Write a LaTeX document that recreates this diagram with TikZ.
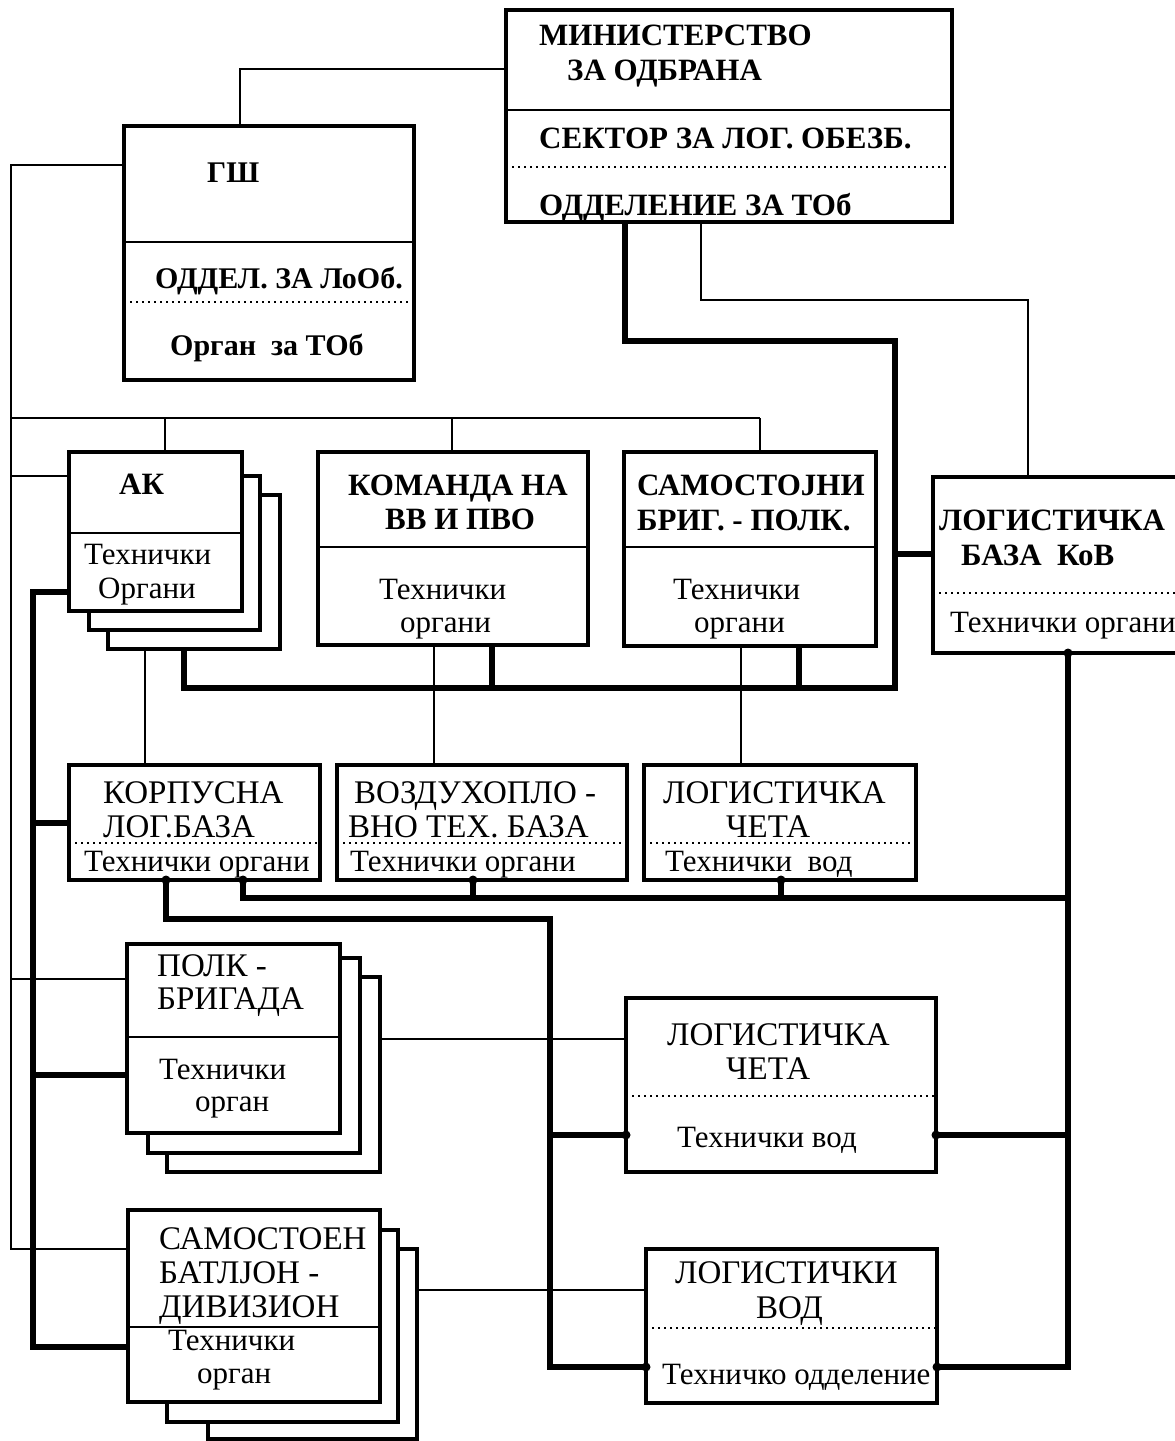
\documentclass[tikz,border=0pt]{standalone}
\usepackage{fontspec}
\setmainfont{Liberation Serif}
\begin{document}
\begin{tikzpicture}[x=1pt,y=-1pt,
  bx/.style={draw, line width=4.5pt, fill=white, inner sep=0pt, outer sep=0pt, anchor=north west},
  tn/.style={line width=1.6pt},
  tk/.style={line width=5.5pt, line join=miter},
  sepl/.style={line width=2pt},
  dotl/.style={line width=2pt, dash pattern=on 2pt off 4pt},
  lr/.style={anchor=base west, inner sep=0pt, text height=20pt, text depth=0pt, font=\fontsize{31}{31}\selectfont},
  lrc/.style={anchor=base west, inner sep=0pt, text height=21pt, text depth=0pt, font=\fontsize{33}{33}\selectfont},
  lbm/.style={anchor=base west, inner sep=0pt, text height=20pt, text depth=0pt, font=\bfseries\fontsize{31}{31}\selectfont},
  lbg/.style={anchor=base west, inner sep=0pt, text height=19pt, text depth=0pt, font=\bfseries\fontsize{30}{30}\selectfont},
  lbb/.style={anchor=base west, inner sep=0pt, text height=20pt, text depth=0pt, font=\bfseries\fontsize{31}{31}\selectfont},
  blob/.style={circle, fill, inner sep=0pt, minimum size=9pt}
]
\useasboundingbox (0,0) rectangle (1175,1441);
\clip (0,0) rectangle (1175,1441);

% ---------- top boxes ----------
\node[bx, minimum width=446pt, minimum height=212pt] (min) at (506,10) {};
\node[bx, minimum width=290pt, minimum height=254pt] (gsh) at (124,126) {};

% ---------- connectors ----------
% thin
\draw[tn] (gsh.north -| 240,0) |- (min.west |- 0,69);
\draw[tn] (gsh.west |- 0,165) -- (11,165) -- (11,1249) -- (128,1249);
\draw[tn] (11,418) -- (760,418);
\draw[tn] (165,418) -- (165,452);
\draw[tn] (452,418) -- (452,452);
\draw[tn] (760,418) -- (760,452);
\draw[tn] (11,476) -- (69,476);
\draw[tn] (11,979) -- (127,979);
\draw[tn] (min.south -| 701,0) -- (701,300) -- (1028,300) -- (1028,477);
\draw[tn] (145,649) -- (145,765);
\draw[tn] (434,645) -- (434,765);
\draw[tn] (741,646) -- (741,765);
\draw[tn] (380,1039) -- (626,1039);
\draw[tn] (417,1290) -- (646,1290);
% thick
\draw[tk] (min.south -| 625,0) -- (625,341) -- (895,341) -- (895,688) -- (184,688) -- (184,649);
\draw[tk] (492,688) -- (492,645);
\draw[tk] (799,688) -- (799,646);
\draw[tk] (895,554) -- (933,554);
\draw[tk] (69,592) -- (33,592) -- (33,1347) -- (128,1347);
\draw[tk] (33,823) -- (69,823);
\draw[tk] (33,1075) -- (127,1075);
\draw[tk] (1068,653) -- (1068,1367) -- (937,1367);
\draw[tk] (243,880) -- (243,898) -- (1068,898);
\draw[tk] (473,880) -- (473,898);
\draw[tk] (781,880) -- (781,898);
\draw[tk] (166,880) -- (166,919) -- (550,919) -- (550,1367) -- (646,1367);
\draw[tk] (550,1135) -- (626,1135);
\draw[tk] (936,1135) -- (1068,1135);

% ---------- remaining boxes ----------
\node[bx, minimum width=172pt, minimum height=154pt] (ak3) at (108,495) {};
\node[bx, minimum width=171pt, minimum height=154pt] (ak2) at (89,476) {};
\node[bx, minimum width=173pt, minimum height=159pt] (ak) at (69,452) {};
\node[bx, minimum width=270pt, minimum height=193pt] (kom) at (318,452) {};
\node[bx, minimum width=252pt, minimum height=194pt] (sam) at (624,452) {};
\node[bx, minimum width=250pt, minimum height=176pt] (baza) at (933,477) {};
\node[bx, minimum width=251pt, minimum height=115pt] (kor) at (69,765) {};
\node[bx, minimum width=290pt, minimum height=115pt] (voz) at (337,765) {};
\node[bx, minimum width=272pt, minimum height=115pt] (lc1) at (644,765) {};
\node[bx, minimum width=213pt, minimum height=195pt] (pol3) at (167,977) {};
\node[bx, minimum width=212pt, minimum height=195pt] (pol2) at (148,958) {};
\node[bx, minimum width=213pt, minimum height=189pt] (pol) at (127,944) {};
\node[bx, minimum width=310pt, minimum height=174pt] (lc2) at (626,998) {};
\node[bx, minimum width=209pt, minimum height=190pt] (sb3) at (208,1249) {};
\node[bx, minimum width=231pt, minimum height=192pt] (sb2) at (167,1230) {};
\node[bx, minimum width=252pt, minimum height=192pt] (sb) at (128,1210) {};
\node[bx, minimum width=291pt, minimum height=154pt] (lv) at (646,1249) {};

% ---------- separators ----------
\draw[sepl] (min.west |- 0,110) -- (min.east |- 0,110);
\draw[dotl] (min.west |- 0,167) -- (min.east |- 0,167);
\draw[sepl] (gsh.west |- 0,242) -- (gsh.east |- 0,242);
\draw[dotl] (gsh.west |- 0,302) -- (gsh.east |- 0,302);
\draw[sepl] (ak.west |- 0,533) -- (ak.east |- 0,533);
\draw[sepl] (kom.west |- 0,547) -- (kom.east |- 0,547);
\draw[sepl] (sam.west |- 0,547) -- (sam.east |- 0,547);
\draw[dotl] (baza.west |- 0,593) -- (baza.east |- 0,593);
\draw[dotl] (kor.west |- 0,843) -- (kor.east |- 0,843);
\draw[dotl] (voz.west |- 0,843) -- (voz.east |- 0,843);
\draw[dotl] (lc1.west |- 0,843) -- (lc1.east |- 0,843);
\draw[sepl] (pol.west |- 0,1037) -- (pol.east |- 0,1037);
\draw[dotl] (lc2.west |- 0,1096) -- (lc2.east |- 0,1096);
\draw[sepl] (sb.west |- 0,1327) -- (sb.east |- 0,1327);
\draw[dotl] (lv.west |- 0,1328) -- (lv.east |- 0,1328);

% ---------- junction dots ----------
\node[blob] (d1) at (166,880) {};
\node[blob] (d2) at (243,880) {};
\node[blob] (d3) at (473,880) {};
\node[blob] (d4) at (781,880) {};
\node[blob] (d5) at (1068,653) {};
\node[blob] (d6) at (626,1135) {};
\node[blob] (d7) at (936,1135) {};
\node[blob] (d8) at (646,1367) {};
\node[blob] (d9) at (937,1367) {};

% ---------- texts ----------
\node[lbm] (t1) at (539,45) {МИНИСТЕРСТВО};
\node[lbm] (t2) at (567,80) {ЗА ОДБРАНА};
\node[lbm] (t3) at (539,148) {СЕКТОР ЗА ЛОГ. ОБЕЗБ.};
\node[lbm] (t4) at (539,215) {ОДДЕЛЕНИЕ ЗА ТОб};

\node[lbg] (t5) at (207,182) {ГШ};
\node[lbg] (t6) at (155,288) {ОДДЕЛ. ЗА ЛоОб.};
\node[lbg] (t7) at (170,355) {Орган\ \ за ТОб};

\node[lbb] (t8) at (119,494) {АК};
\node[lbb] (t9) at (348,495) {КОМАНДА НА};
\node[lbb] (t10) at (385,529) {ВВ И ПВО};
\node[lbb] (t11) at (637,495) {САМОСТОЈНИ};
\node[lbb] (t12) at (637,530) {БРИГ. - ПОЛК.};
\node[lbb] (t13) at (939,530) {ЛОГИСТИЧКА};
\node[lbb] (t14) at (961,565) {БАЗА\ \ КоВ};

\node[lr] (t15) at (84,564) {Технички};
\node[lr] (t16) at (98,598) {Органи};
\node[lr] (t17) at (379,599) {Технички};
\node[lr] (t18) at (400,632) {органи};
\node[lr] (t19) at (673,599) {Технички};
\node[lr] (t20) at (694,632) {органи};
\node[lr] (t21) at (950,632) {Технички органи};

\node[lrc] (t22) at (103,803) {КОРПУСНА};
\node[lrc] (t23) at (103,837) {ЛОГ.БАЗА};
\node[lr] (t24) at (84,871) {Технички органи};
\node[lrc] (t25) at (354,803) {ВОЗДУХОПЛО -};
\node[lrc] (t26) at (348,837) {ВНО ТЕХ. БАЗА};
\node[lr] (t27) at (350,871) {Технички органи};
\node[lrc] (t28) at (663,803) {ЛОГИСТИЧКА};
\node[lrc] (t29) at (726,837) {ЧЕТА};
\node[lr] (t30) at (665,871) {Технички\ \ вод};

\node[lrc] (t31) at (157,976) {ПОЛК -};
\node[lrc] (t32) at (157,1009) {БРИГАДА};
\node[lr] (t33) at (159,1079) {Технички};
\node[lr] (t34) at (195,1111) {орган};

\node[lrc] (t35) at (159,1249) {САМОСТОЕН};
\node[lrc] (t36) at (159,1283) {БАТЛЈОН -};
\node[lrc] (t37) at (159,1317) {ДИВИЗИОН};
\node[lr] (t38) at (168,1350) {Технички};
\node[lr] (t39) at (197,1383) {орган};

\node[lrc] (t40) at (667,1045) {ЛОГИСТИЧКА};
\node[lrc] (t41) at (726,1079) {ЧЕТА};
\node[lr] (t42) at (677,1147) {Технички вод};

\node[lrc] (t43) at (675,1283) {ЛОГИСТИЧКИ};
\node[lrc] (t44) at (756,1318) {ВОД};
\node[lr] (t45) at (662,1384) {Техничко одделение};
\end{tikzpicture}
\end{document}
